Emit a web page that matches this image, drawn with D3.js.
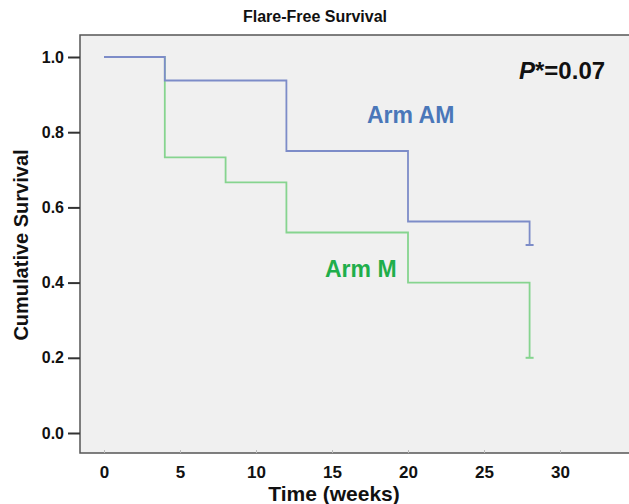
<!DOCTYPE html>
<html>
<head>
<meta charset="utf-8">
<script src="https://cdn.jsdelivr.net/npm/d3@7"></script>
<style>
  body { margin: 0; background: #fff; }
  text { font-family: "Liberation Sans", Arial, sans-serif; font-weight: bold; }
</style>
</head>
<body>
<div id="chart"></div>
<script>
// step data (time in weeks, survival)
var amTimes = [0, 4, 12, 20, 28];
var amSurv = [1.0, 0.9375, 0.75, 0.5625, 0.5];
var amCensor = [[28, 0.5]];

var mTimes = [0, 4, 8, 12, 20, 28];
var mSurv = [1.0, 0.7333, 0.6667, 0.5333, 0.4, 0.2];
var mCensor = [[28, 0.2]];

var xTicks = [0, 5, 10, 15, 20, 25, 30];
var yTicks = [0.0, 0.2, 0.4, 0.6, 0.8, 1.0];

var width = 629, height = 504;
var plot = { left: 80, top: 35, right: 629, bottom: 453 };

var svg = d3.select("#chart").append("svg")
  .attr("width", width)
  .attr("height", height);

// scales
var x = d3.scaleLinear().domain([0, 30]).range([104, 560]);
var y = d3.scaleLinear().domain([0, 1]).range([433, 57]);

// plot background
svg.append("rect")
  .attr("x", plot.left)
  .attr("y", plot.top)
  .attr("width", plot.right - plot.left)
  .attr("height", plot.bottom - plot.top)
  .attr("fill", "#f0f0f0");

// left and top/bottom frame lines
svg.append("path")
  .attr("d", "M" + plot.right + "," + plot.top + "H" + plot.left + "V" + plot.bottom + "H" + plot.right)
  .attr("fill", "none")
  .attr("stroke", "#555")
  .attr("stroke-width", 1.5);

// y axis
var yAxis = d3.axisLeft(y).tickValues(yTicks).tickFormat(d3.format(".1f")).tickSize(12).tickPadding(4);
var yg = svg.append("g").attr("transform", "translate(" + plot.left + ",0)").call(yAxis);
yg.select(".domain").remove();
yg.selectAll("line").attr("stroke", "#333").attr("stroke-width", 2);
yg.selectAll("text").attr("font-size", 16).attr("fill", "#111");

// x axis
var xAxis = d3.axisBottom(x).tickValues(xTicks).tickSize(-3).tickPadding(13);
var xg = svg.append("g").attr("transform", "translate(0," + plot.bottom + ")").call(xAxis);
xg.select(".domain").remove();
xg.selectAll("line").attr("stroke", "#bbb").attr("stroke-width", 1);
xg.selectAll("text").attr("font-size", 17).attr("fill", "#111");

// step lines
var line = d3.line()
  .x(function (d) { return x(d[0]); })
  .y(function (d) { return y(d[1]); })
  .curve(d3.curveStepAfter);

function drawCurve(times, surv, censor, color) {
  var pts = times.map(function (t, i) { return [t, surv[i]]; });
  svg.append("path")
    .datum(pts)
    .attr("d", line)
    .attr("fill", "none")
    .attr("stroke", color)
    .attr("stroke-width", 1.8);
  svg.selectAll(null)
    .data(censor)
    .enter().append("line")
    .attr("x1", function (d) { return x(d[0]) - 4; })
    .attr("x2", function (d) { return x(d[0]) + 4; })
    .attr("y1", function (d) { return y(d[1]); })
    .attr("y2", function (d) { return y(d[1]); })
    .attr("stroke", color)
    .attr("stroke-width", 2);
}

drawCurve(mTimes, mSurv, mCensor, "#86d48f");
drawCurve(amTimes, amSurv, amCensor, "#7d8cc8");

// labels
svg.append("text").attr("x", 315).attr("y", 22).attr("text-anchor", "middle")
  .attr("font-size", 16).attr("fill", "#111").text("Flare-Free Survival");

svg.append("text").attr("transform", "translate(28,245) rotate(-90)").attr("text-anchor", "middle")
  .attr("font-size", 20).attr("fill", "#111").text("Cumulative Survival");

svg.append("text").attr("x", 334).attr("y", 501).attr("text-anchor", "middle")
  .attr("font-size", 21).attr("fill", "#111").text("Time (weeks)");

svg.append("text").attr("x", 367).attr("y", 123)
  .attr("font-size", 23).attr("fill", "#4a77b9").text("Arm AM");

svg.append("text").attr("x", 325).attr("y", 277)
  .attr("font-size", 23).attr("fill", "#1fae4b").text("Arm M");

var p = svg.append("text").attr("x", 519).attr("y", 79)
  .attr("font-size", 24).attr("fill", "#111");
p.append("tspan").attr("font-style", "italic").text("P");
p.append("tspan").text("*=0.07");
</script>
</body>
</html>
